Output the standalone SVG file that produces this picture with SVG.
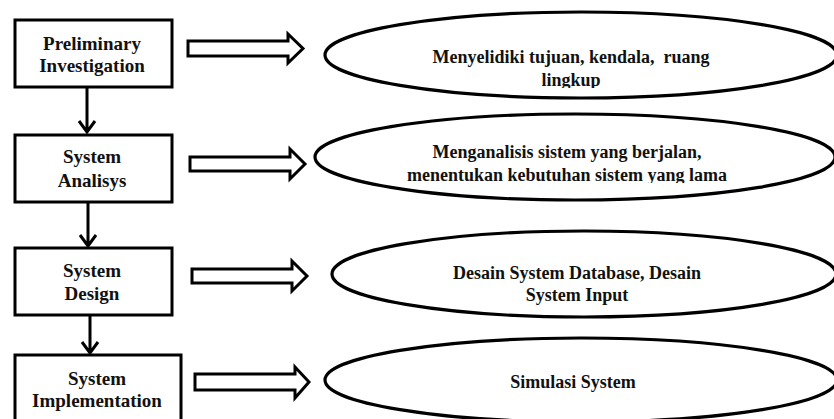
<svg xmlns="http://www.w3.org/2000/svg" width="834" height="419" viewBox="0 0 834 419">
  <style>
    .box { fill: #fff; stroke: #000; stroke-width: 3; }
    .oval { fill: #fff; stroke: #000; stroke-width: 3.2; }
    .fat { fill: #fff; stroke: #000; stroke-width: 3; stroke-linejoin: miter; }
    .flow { fill: none; stroke: #000; stroke-width: 3; }
    .lbl { font-family: 'Liberation Serif', 'Times New Roman', 'DejaVu Serif', serif; font-weight: 700; font-size: 18px; fill: #111; text-anchor: middle; }
    .phase { font-size: 19px; }
  </style>
  <defs>
    <clipPath id="cut1"><rect x="0" y="0" width="834" height="88"/></clipPath>
    <clipPath id="cut2"><rect x="0" y="0" width="834" height="183"/></clipPath>
  </defs>
  <rect width="834" height="419" fill="#fff"/>

  <!-- vertical flow between phases and fat arrows toward the activities -->
  <g id="connectors">
    <path class="flow" d="M87 88 V132 M79 121 L87 132 L95 121"/>
    <path class="flow" d="M88 203 V246 M80 235 L88 246 L96 235"/>
    <path class="flow" d="M90 316 V353 M82 342 L90 353 L98 342"/>
    <polygon class="fat" points="188,41 288,41 288,34 303,48.5 288,63 288,56 188,56"/>
    <polygon class="fat" points="190,157 290,157 290,149 305,164 290,179 290,171 190,171"/>
    <polygon class="fat" points="192,269 292,269 292,261 307,276 292,291 292,283 192,283"/>
    <polygon class="fat" points="195,374 295,374 295,367 309,382 295,398 295,390 195,390"/>
  </g>

  <g id="preliminary-investigation">
    <rect class="box" x="15" y="20" width="157" height="67"/>
    <text class="lbl phase" x="92" y="50">Preliminary</text>
    <text class="lbl phase" x="92" y="72">Investigation</text>
  </g>
  <g id="system-analisys">
    <rect class="box" x="15" y="135" width="157" height="67"/>
    <text class="lbl phase" x="92" y="163">System</text>
    <text class="lbl phase" x="92" y="187">Analisys</text>
  </g>
  <g id="system-design">
    <rect class="box" x="15" y="248" width="157" height="67"/>
    <text class="lbl phase" x="92" y="277">System</text>
    <text class="lbl phase" x="92" y="300">Design</text>
  </g>
  <g id="system-implementation">
    <rect class="box" x="15" y="355" width="166" height="75"/>
    <text class="lbl phase" x="97" y="385">System</text>
    <text class="lbl phase" x="97" y="407">Implementation</text>
  </g>

  <g id="investigation-goals">
    <ellipse class="oval" cx="581" cy="55" rx="256" ry="43"/>
    <text class="lbl" x="571" y="63" xml:space="preserve">Menyelidiki tujuan, kendala,  ruang</text>
    <text class="lbl" x="571" y="86" clip-path="url(#cut1)">lingkup</text>
  </g>
  <g id="analysis-tasks">
    <ellipse class="oval" cx="575" cy="157" rx="260" ry="43"/>
    <text class="lbl" x="567" y="158">Menganalisis sistem yang berjalan,</text>
    <text class="lbl" x="567" y="181" clip-path="url(#cut2)">menentukan kebutuhan sistem yang lama</text>
  </g>
  <g id="design-tasks">
    <ellipse class="oval" cx="584" cy="274" rx="252" ry="43"/>
    <text class="lbl" x="577" y="279">Desain System Database, Desain</text>
    <text class="lbl" x="577" y="301">System Input</text>
  </g>
  <g id="simulation">
    <ellipse class="oval" cx="581" cy="380" rx="256" ry="42"/>
    <text class="lbl" x="573" y="388">Simulasi System</text>
  </g>
</svg>
